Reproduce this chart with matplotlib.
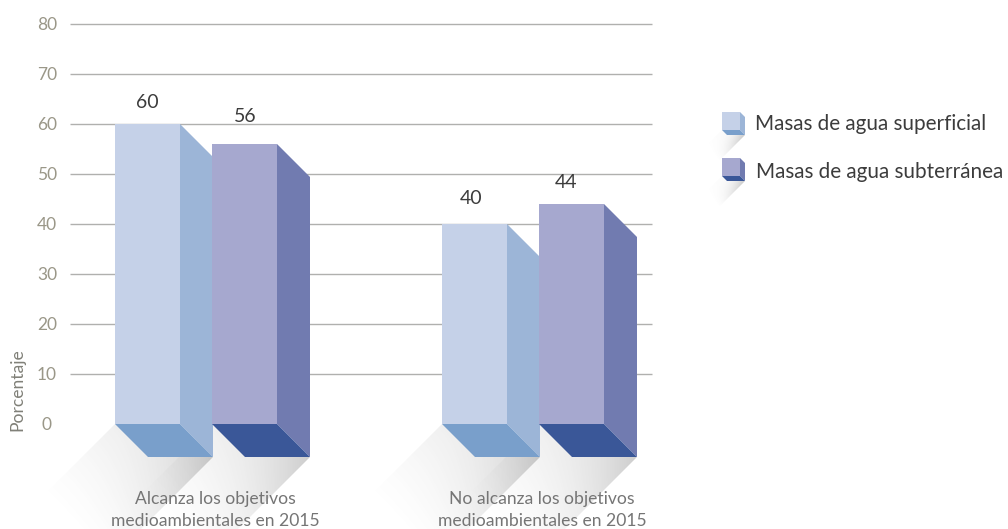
import numpy as np
import matplotlib
matplotlib.use("Agg")
import matplotlib.pyplot as plt
from matplotlib.patches import Polygon

categories = ["Alcanza los objetivos\nmedioambientales en 2015",
              "No alcanza los objetivos\nmedioambientales en 2015"]
series_names = ["Masas de agua superficial", "Masas de agua subterránea"]
superficial = [60, 40]
subterranea = [56, 44]
ticks = [0, 10, 20, 30, 40, 50, 60, 70, 80]

plt.rcParams['font.family'] = ['Lato', 'DejaVu Sans']

W, H = 1008, 529
PX = 5.0       # pixels per percentage unit
Y0 = 424       # pixel row of value 0

fig = plt.figure(figsize=(W / 100, H / 100), dpi=100)
ax = fig.add_axes([0, 0, 1, 1])
ax.set_xlim(0, W)
ax.set_ylim((Y0 - H) / PX, Y0 / PX)
ax.axis('off')


def u(px):
    return px / PX


def shadow(x0, w, depth, base, length, strength=(0.17, 0.34)):
    """Fading shadow falling to the lower left of a block."""
    xl, xr = x0, x0 + w + depth
    yt = base
    yr = base - u(depth)
    poly = [(xl, yt), (xr, yr), (xr - length, yr - u(length)), (xl - length, yt - u(length))]
    xs = np.linspace(xl - length, xr, 420)
    ys = np.linspace(yr - u(length), yt, 300)
    X, Y = np.meshgrid(xs, ys)
    Yp = -Y * PX
    # distance travelled along the 45-degree direction, and position across the band
    a = ((xr - X) + (Yp + yr * PX)) / 2.0
    along = np.clip(1 - a / length, 0, 1)
    across = np.clip((X + Yp - (xl + base * -PX)) / (xr - xl + depth), 0, 1)
    alpha = (strength[0] + (strength[1] - strength[0]) * across ** 2) * along ** 1.3
    rgba = np.zeros(X.shape + (4,))
    rgba[..., :3] = 0.42
    rgba[..., 3] = np.clip(alpha, 0, 1)
    im = ax.imshow(rgba, extent=(xs[0], xs[-1], ys[0], ys[-1]), origin='lower',
                   aspect='auto', interpolation='bilinear', zorder=1)
    p = Polygon(poly, transform=ax.transData, fc='none', ec='none')
    ax.add_patch(p)
    im.set_clip_path(p)


def block(x0, w, top, base, depth, colors, z):
    d = u(depth)
    front, side, bottom = colors
    ax.add_patch(Polygon([(x0 + w, top), (x0 + w + depth, top - d),
                          (x0 + w + depth, base - d), (x0 + w, base)],
                         fc=side, ec='none', zorder=z))
    ax.add_patch(Polygon([(x0, base), (x0 + w, base),
                          (x0 + w + depth, base - d), (x0 + depth, base - d)],
                         fc=bottom, ec='none', zorder=z))
    ax.add_patch(Polygon([(x0, base), (x0 + w, base), (x0 + w, top), (x0, top)],
                         fc=front, ec='none', zorder=z + 0.1))


light = ("#c5d1e8", "#9cb5d7", "#799fcb")
dark = ("#a6a8cf", "#717bb0", "#3a5798")
group_x = [115, 442]
offset = 97
bar_w = 65
depth = 33
label_shift_a = [(0, 23 - 2), (-3, 26 - 1)]
label_shift_b = [(1, 28 - 1), (-5, 23 - 2)]

for t in ticks[1:]:
    ax.plot([70, 652], [t, t], color="#b0b0ae", lw=1.0, zorder=2, solid_capstyle='butt')
for t in ticks:
    ax.text(47, t - u(1), str(t), ha='center', va='center', fontsize=12.5, color="#9a9788", zorder=6)

for gx in group_x:
    shadow(gx + offset, bar_w, depth, 0, 105)
    shadow(gx, bar_w, depth, 0, 105)
for i, (gx, a, b) in enumerate(zip(group_x, superficial, subterranea)):
    block(gx, bar_w, a, 0, depth, light, 3 + i)
    block(gx + offset, bar_w, b, 0, depth, dark, 3.5 + i)
    sa, sb = label_shift_a[i], label_shift_b[i]
    ax.text(gx + bar_w / 2 + sa[0], a + u(sa[1]), str(a), ha='center', va='center',
            fontsize=14, color="#3c3c3c", zorder=8)
    ax.text(gx + offset + bar_w / 2 + sb[0], b + u(sb[1]), str(b), ha='center', va='center',
            fontsize=14, color="#3c3c3c", zorder=8)
    ax.text(gx + 100, u(Y0 - 510), categories[i], ha='center', va='center', fontsize=12.6,
            color="#757575", linespacing=1.42, zorder=8)

ax.text(17, u(Y0 - 390), "Porcentaje", rotation=90, ha='center', va='center',
        fontsize=12.6, color="#808078", zorder=8)

# legend
for name, colors, top_px, ty, tx in zip(series_names, (light, dark), (112, 158), (124, 172), (755, 756)):
    base = u(Y0 - top_px - 18)
    shadow(722, 18, 5, base, 26, strength=(0.05, 0.38))
    block(722, 18, u(Y0 - top_px), base, 5, colors, 5)
    ax.text(tx, u(Y0 - ty), name, ha='left', va='center', fontsize=14.9,
            color="#3c3c3c", zorder=8)

fig.savefig("out.png", dpi=100)
